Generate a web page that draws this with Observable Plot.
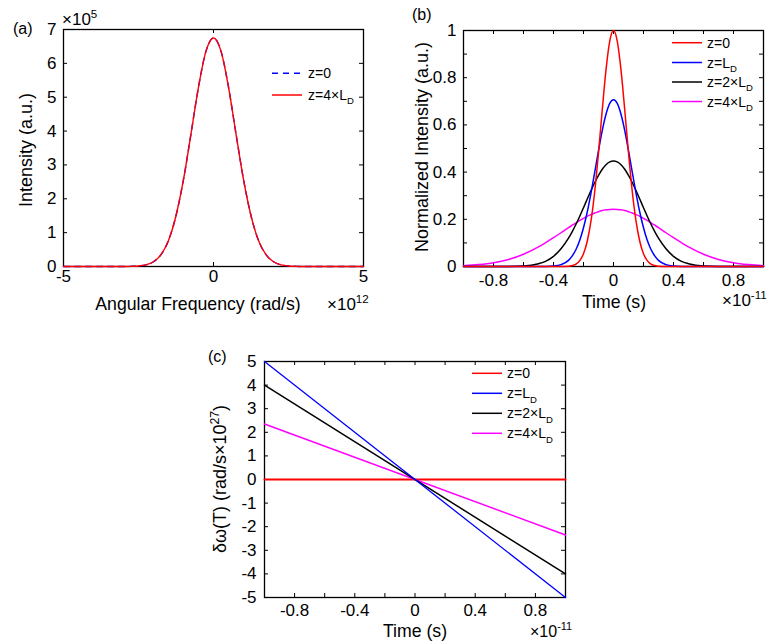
<!DOCTYPE html>
<html><head><meta charset="utf-8">
<script src="https://cdn.jsdelivr.net/npm/d3@7"></script>
<script src="https://cdn.jsdelivr.net/npm/@observablehq/plot@0.6"></script>
<style>
body{margin:0;background:#fff;}
#fig{position:relative;width:767px;height:643px;overflow:hidden;background:#fff;}
</style></head><body><div id="fig"></div>
<script>
// ---------- Panel (a): spectrum (x10^12 rad/s, x10^5 a.u.) ----------
const specFreq = [-5,-4,-3,-2.75,-2.5,-2.25,-2,-1.75,-1.5,-1.25,-1,-0.75,-0.5,-0.25,0,0.25,0.5,0.75,1,1.25,1.5,1.75,2,2.25,2.5,2.75,3,4,5];
const specZ0   = [0,0,0,0.005,0.016,0.05,0.14,0.35,0.77,1.50,2.57,3.92,5.30,6.36,6.75,6.36,5.30,3.92,2.57,1.50,0.77,0.35,0.14,0.05,0.016,0.005,0,0,0];
const specZ4LD = [0,0,0,0.005,0.016,0.05,0.14,0.35,0.77,1.50,2.57,3.92,5.30,6.36,6.75,6.36,5.30,3.92,2.57,1.50,0.77,0.35,0.14,0.05,0.016,0.005,0,0,0];
const aXTicks = [-5,0,5];
const aYTicks = [0,1,2,3,4,5,6,7];

// ---------- Panel (b): normalized intensity vs time (x10^-11 s) ----------
const pulseTime = [-1,-0.9,-0.8,-0.7,-0.6,-0.5,-0.45,-0.4,-0.35,-0.3,-0.275,-0.25,-0.225,-0.2,-0.175,-0.15,-0.125,-0.1,-0.075,-0.05,-0.025,0,0.025,0.05,0.075,0.1,0.125,0.15,0.175,0.2,0.225,0.25,0.275,0.3,0.35,0.4,0.45,0.5,0.6,0.7,0.8,0.9,1];
const pulseZ0   = [0,0,0,0,0,0,0,0,0,0.001,0.004,0.010,0.025,0.054,0.107,0.193,0.319,0.482,0.663,0.833,0.955,1,0.955,0.833,0.663,0.482,0.319,0.193,0.107,0.054,0.025,0.010,0.004,0.001,0,0,0,0,0,0,0,0,0];
const pulseLD   = [0,0,0,0,0,0,0.0004,0.002,0.008,0.026,0.045,0.072,0.111,0.164,0.231,0.311,0.400,0.491,0.576,0.645,0.691,0.707,0.691,0.645,0.576,0.491,0.400,0.311,0.231,0.164,0.111,0.072,0.045,0.026,0.008,0.002,0.0004,0,0,0,0,0,0];
const pulse2LD  = [0,0,0,0.0003,0.002,0.012,0.023,0.043,0.075,0.120,0.148,0.179,0.213,0.249,0.286,0.322,0.356,0.386,0.412,0.431,0.443,0.447,0.443,0.431,0.412,0.386,0.356,0.322,0.286,0.249,0.213,0.179,0.148,0.120,0.075,0.043,0.023,0.012,0.002,0.0003,0,0,0];
const pulse4LD  = [0.003,0.008,0.016,0.030,0.052,0.083,0.102,0.122,0.143,0.165,0.175,0.185,0.195,0.204,0.213,0.220,0.227,0.232,0.237,0.240,0.242,0.243,0.242,0.240,0.237,0.232,0.227,0.220,0.213,0.204,0.195,0.185,0.175,0.165,0.143,0.122,0.102,0.083,0.052,0.030,0.016,0.008,0.003];
const tXLabels = [-0.8,-0.4,0,0.4,0.8];
const tXTicks = [-0.8,-0.6,-0.4,-0.2,0,0.2,0.4,0.6,0.8];
const bYLabels = [0,0.2,0.4,0.6,0.8,1];
const bYTicks = [0.1,0.2,0.3,0.4,0.5,0.6,0.7,0.8,0.9];

// ---------- Panel (c): chirp (x10^27 rad/s) ----------
const chirpTime = [-1,1];
const chirpZ0   = [0,0];
const chirpLD   = [5,-5];
const chirp2LD  = [4,-4];
const chirp4LD  = [2.35,-2.35];
const cYTicks = [-5,-4,-3,-2,-1,0,1,2,3,4,5];

const RED="#ff0000", BLUE="#0000ff", BLACK="#000000", MAG="#ff00ff";
const FONT='"Liberation Sans", Arial, Helvetica, sans-serif';
const fmt = d => String(d);
const rows = (xs, ys) => xs.map((x,i)=>({x, y: ys[i]}));
const fig = document.getElementById("fig");
const style = {fontFamily: FONT, fontSize: "17px", color: "black", background: "transparent", overflow: "visible"};

function ticksIn(xt, yt, fw, fh, len = 4) {
  return [
    Plot.tickX(xt, {x: d => d, insetTop: fh - len, stroke: "black"}),
    Plot.tickX(xt, {x: d => d, insetBottom: fh - len, stroke: "black"}),
    Plot.tickY(yt, {y: d => d, insetRight: fw - len, stroke: "black"}),
    Plot.tickY(yt, {y: d => d, insetLeft: fw - len, stroke: "black"})
  ];
}
function place(svg, left, top) {
  svg.style.position = "absolute"; svg.style.left = left + "px"; svg.style.top = top + "px";
  fig.appendChild(svg);
}
const lineOpts = (stroke, extra={}) => ({x: "x", y: "y", stroke, strokeWidth: 1.5, curve: "monotone-x", ...extra});

// Panel (a)
place(Plot.plot({
  width: 380, height: 310, marginLeft: 63, marginRight: 17, marginTop: 29, marginBottom: 44,
  x: {domain: [-5, 5]}, y: {domain: [0, 7]}, style,
  marks: [
    Plot.frame({stroke: "black", strokeWidth: 1.3}),
    ...ticksIn(aXTicks, aYTicks, 300, 237),
    Plot.axisX({ticks: aXTicks, tickSize: 0, tickPadding: 3, tickFormat: fmt, fontSize: 17, label: null}),
    Plot.axisY({ticks: aYTicks, tickSize: 0, tickPadding: 7, tickFormat: fmt, fontSize: 17, label: null}),
    Plot.line(rows(specFreq, specZ0), lineOpts(BLUE, {strokeDasharray: "6,5", strokeWidth: 1.4})),
    Plot.line(rows(specFreq, specZ4LD), lineOpts(RED, {strokeWidth: 1.4}))
  ]
}), 0, 0);

// Panel (b)
place(Plot.plot({
  width: 387, height: 310, marginLeft: 83, marginRight: 4, marginTop: 30, marginBottom: 44,
  x: {domain: [-1, 1]}, y: {domain: [0, 1]}, style,
  marks: [
    Plot.frame({stroke: "black", strokeWidth: 1.3}),
    ...ticksIn(tXTicks, bYTicks, 300, 236),
    Plot.axisX({ticks: tXLabels, tickSize: 0, tickPadding: 7, tickFormat: fmt, fontSize: 17, label: null}),
    Plot.axisY({ticks: bYLabels, tickSize: 0, tickPadding: 7, tickFormat: fmt, fontSize: 17, label: null}),
    Plot.line(rows(pulseTime, pulse4LD), lineOpts(MAG)),
    Plot.line(rows(pulseTime, pulse2LD), lineOpts(BLACK)),
    Plot.line(rows(pulseTime, pulseLD), lineOpts(BLUE)),
    Plot.line(rows(pulseTime, pulseZ0), lineOpts(RED))
  ]
}), 380, 0);

// Panel (c)
place(Plot.plot({
  width: 400, height: 333, marginLeft: 64, marginRight: 35, marginTop: 51, marginBottom: 46,
  x: {domain: [-1, 1]}, y: {domain: [-5, 5]}, style,
  marks: [
    Plot.frame({stroke: "black", strokeWidth: 1.3}),
    ...ticksIn(tXTicks, cYTicks, 301, 236),
    Plot.axisX({ticks: tXLabels, tickSize: 0, tickPadding: 6, tickFormat: fmt, fontSize: 17, label: null}),
    Plot.axisY({ticks: cYTicks, tickSize: 0, tickPadding: 8, tickFormat: fmt, fontSize: 17, label: null}),
    Plot.line(rows(chirpTime, chirpZ0), lineOpts(RED, {strokeWidth: 2, curve: "linear"})),
    Plot.line(rows(chirpTime, chirp4LD), lineOpts(MAG, {curve: "linear"})),
    Plot.line(rows(chirpTime, chirp2LD), lineOpts(BLACK, {curve: "linear"})),
    Plot.line(rows(chirpTime, chirpLD), lineOpts(BLUE, {strokeWidth: 1.3, curve: "linear"}))
  ]
}), 200, 310);

// ---------- Annotation overlay ----------
const ov = d3.create("svg").attr("width", 767).attr("height", 643)
  .style("position", "absolute").style("left", "0px").style("top", "0px")
  .style("pointer-events", "none").attr("font-family", FONT);
fig.appendChild(ov.node());

function addText(parent, x, y, parts, size, anchor = "start") {
  const t = parent.append("text").attr("x", x).attr("y", y).attr("font-size", size)
    .attr("text-anchor", anchor).attr("fill", "black");
  let shift = 0;
  for (const p of parts) {
    const s = typeof p === "string" ? {t: p} : p;
    const target = s.sup ? -0.42 * size : s.sub ? 0.3 * size : 0;
    const ts = t.append("tspan").text(s.t).attr("dy", target - shift);
    if (s.sup || s.sub) ts.attr("font-size", size * 0.68);
    shift = target;
  }
  return t;
}
function rotLabel(cx, cy, parts, size) {
  const g = ov.append("g").attr("transform", `translate(${cx},${cy}) rotate(-90)`);
  addText(g, 0, 0.36 * size, parts, size, "middle");
}
function legend(x1, x2, tx, items) {
  for (const it of items) {
    ov.append("line").attr("x1", x1).attr("x2", x2).attr("y1", it.y).attr("y2", it.y)
      .attr("stroke", it.color).attr("stroke-width", 1.5).attr("stroke-dasharray", it.dash || null);
    addText(ov, tx, it.y + 5, it.parts, 14);
  }
}
const LD = ["z=L", {t: "D", sub: true}];
const L2 = ["z=2×L", {t: "D", sub: true}];
const L4 = ["z=4×L", {t: "D", sub: true}];

// panel tags
addText(ov, 13, 34, ["(a)"], 16);
addText(ov, 412, 20, ["(b)"], 16);
addText(ov, 208, 362, ["(c)"], 16);
// exponents
addText(ov, 62, 25, ["×10", {t: "5", sup: true}], 17);
addText(ov, 327, 310, ["×10", {t: "12", sup: true}], 17);
addText(ov, 722, 306, ["×10", {t: "-11", sup: true}], 17);
addText(ov, 530, 637, ["×10", {t: "-11", sup: true}], 16);
// axis titles
addText(ov, 198, 310, ["Angular Frequency (rad/s)"], 17.7, "middle");
addText(ov, 614, 308, ["Time (s)"], 17.7, "middle");
addText(ov, 415, 637, ["Time (s)"], 17.7, "middle");
rotLabel(26, 150, ["Intensity (a.u.)"], 18);
rotLabel(421.5, 147, ["Normalized Intensity (a.u.)"], 18);
rotLabel(220, 479, ["δω(T) (rad/s×10", {t: "27", sup: true}, ")"], 18);
// legends
legend(272, 302, 308, [
  {y: 73.3, color: BLUE, dash: "6,5", parts: ["z=0"]},
  {y: 95, color: RED, parts: L4}
]);
legend(672, 702, 707, [
  {y: 42.7, color: RED, parts: ["z=0"]},
  {y: 62.5, color: BLUE, parts: LD},
  {y: 82, color: BLACK, parts: L2},
  {y: 101.5, color: MAG, parts: L4}
]);
legend(472, 502, 507, [
  {y: 373.3, color: RED, parts: ["z=0"]},
  {y: 393.3, color: BLUE, parts: LD},
  {y: 413.3, color: BLACK, parts: L2},
  {y: 433.3, color: MAG, parts: L4}
]);
</script></body></html>
